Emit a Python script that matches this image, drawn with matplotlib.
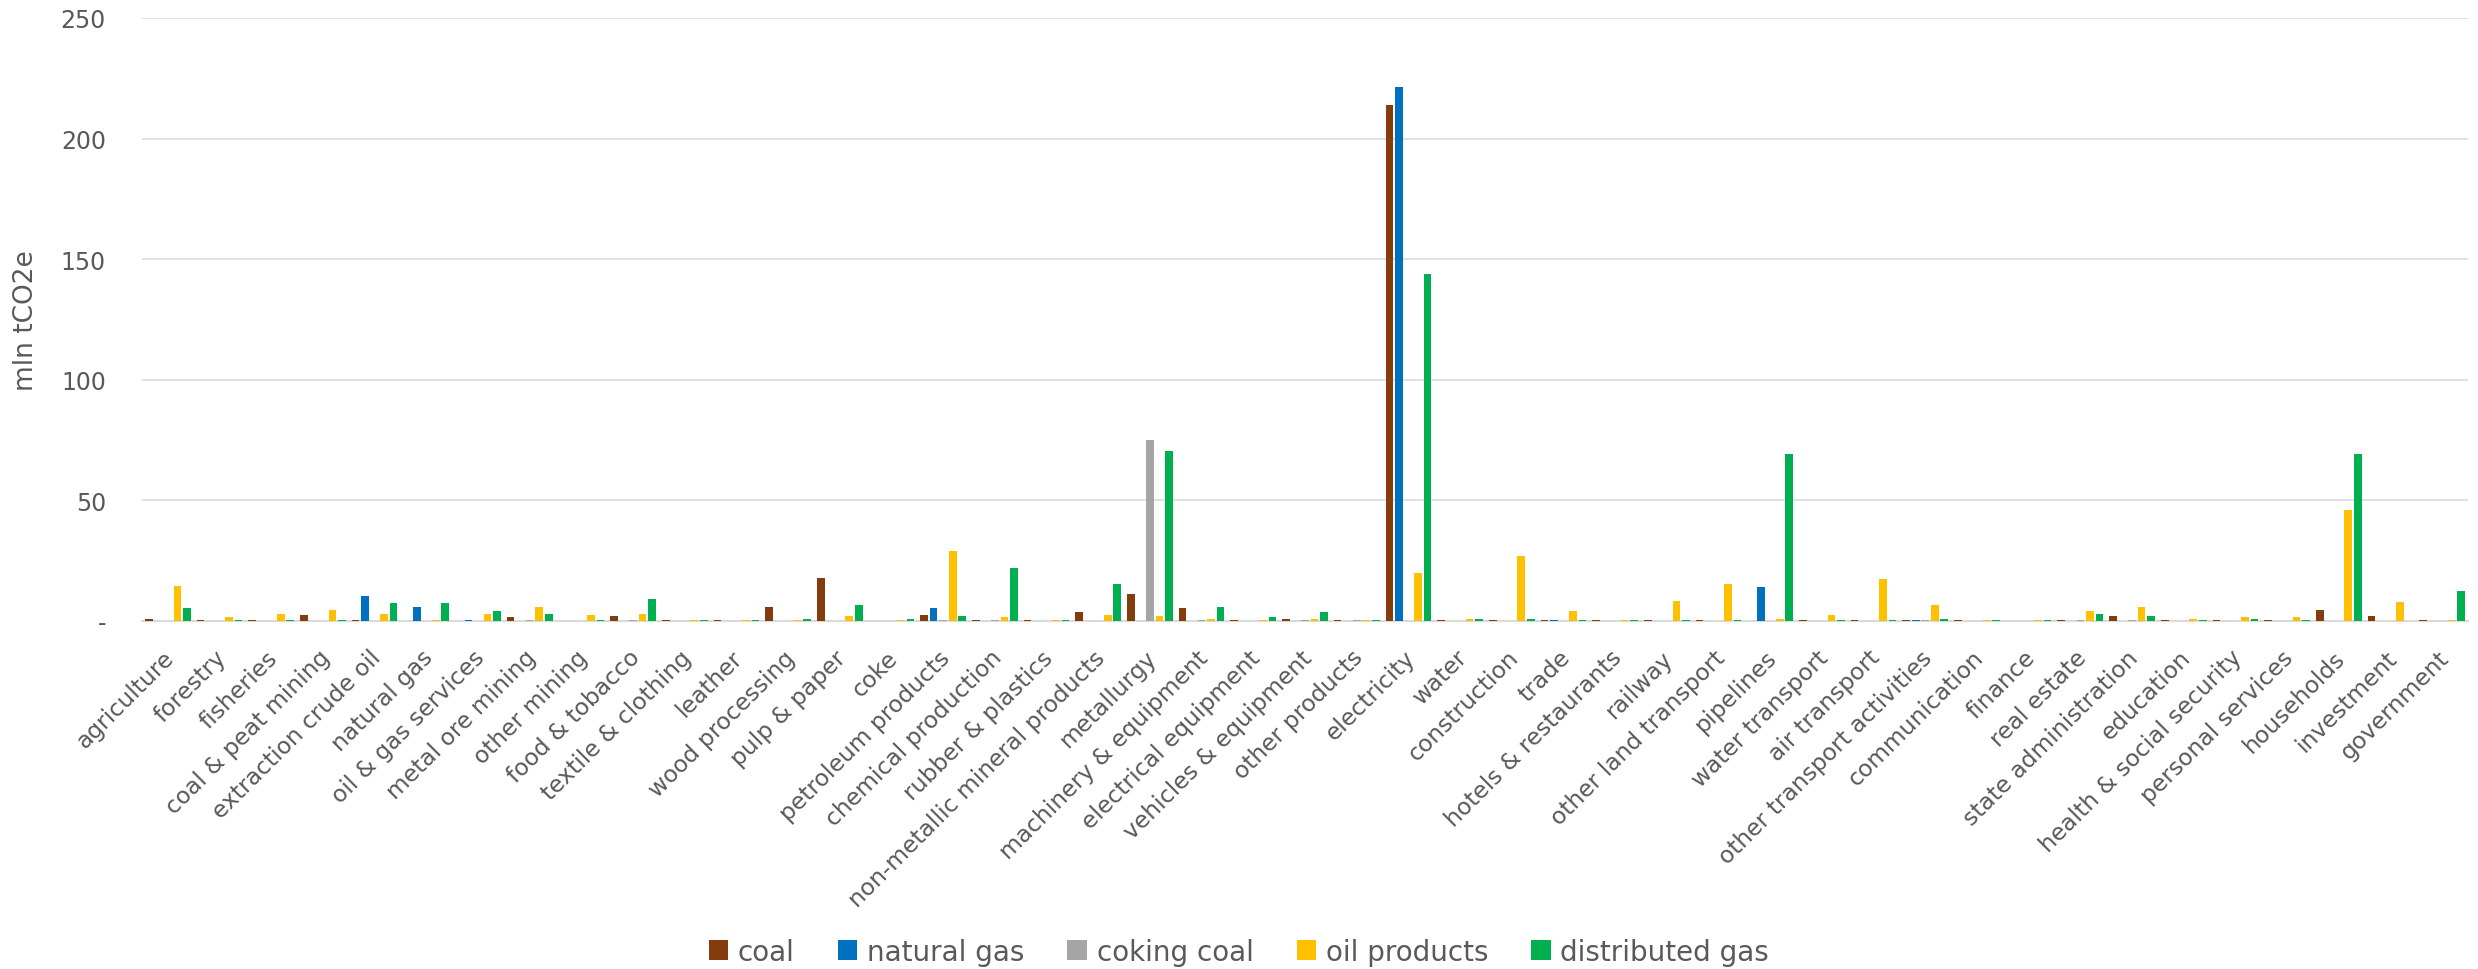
import numpy as np
import matplotlib
matplotlib.use("Agg")
import matplotlib.pyplot as plt
from matplotlib.patches import Patch
from matplotlib.transforms import ScaledTranslation

plt.rcParams['font.family'] = ['DejaVu Sans']

categories = [
    "agriculture", "forestry", "fisheries", "coal & peat mining", "extraction crude oil",
    "natural gas", "oil & gas services", "metal ore mining", "other mining", "food & tobacco",
    "textile & clothing", "leather", "wood processing", "pulp & paper", "coke",
    "petroleum products", "chemical production", "rubber & plastics",
    "non-metallic mineral products", "metallurgy", "machinery & equipment",
    "electrical equipment", "vehicles & equipment", "other products", "electricity",
    "water", "construction", "trade", "hotels & restaurants", "railway",
    "other land transport", "pipelines", "water transport", "air transport",
    "other transport activities", "communication", "finance", "real estate",
    "state administration", "education", "health & social security",
    "personal services", "households", "investment", "government",
]

coal = [0.8, 0.3, 0.3, 2.35, 0.3, 0, 0, 1.4, 0, 1.9,
        0.3, 0.3, 5.7, 17.7, 0, 2.35, 0.3, 0.3, 3.5, 10.9,
        5.1, 0.3, 0.8, 0.3, 214, 0.3, 0.3, 0.3, 0.3, 0.3,
        0.3, 0, 0.3, 0.3, 0.3, 0.3, 0, 0.3, 1.9, 0.3,
        0.3, 0.3, 4.6, 1.9, 0.3]
natural_gas = [0, 0, 0, 0, 10.4, 5.7, 0.3, 0, 0, 0,
               0, 0, 0, 0, 0, 5.1, 0, 0, 0, 0,
               0, 0, 0, 0, 221.5, 0, 0, 0.3, 0, 0,
               0, 14.0, 0, 0, 0.3, 0, 0, 0, 0, 0,
               0, 0, 0, 0, 0]
coking_coal = [0, 0, 0, 0, 0, 0, 0, 0.3, 0, 0.3,
               0, 0, 0, 0, 0, 0.3, 0.3, 0, 0, 75.1,
               0.3, 0, 0.3, 0.3, 0, 0, 0, 0, 0, 0,
               0, 0, 0, 0, 0.3, 0, 0, 0.3, 0.3, 0,
               0, 0, 0, 0, 0]
oil_products = [14.5, 1.4, 2.9, 4.6, 2.9, 0.3, 2.9, 5.7, 2.35, 2.9,
                0.3, 0.3, 0.3, 1.9, 0.3, 28.9, 1.4, 0.3, 2.35, 1.9,
                0.8, 0.3, 0.8, 0.3, 19.8, 0.8, 26.7, 4.0, 0.3, 8.2,
                15.1, 0.8, 2.35, 17.3, 6.5, 0.3, 0.3, 4.0, 5.7, 0.8,
                1.4, 1.4, 45.7, 7.7, 0.3]
distributed_gas = [5.1, 0.3, 0.3, 0.3, 7.2, 7.2, 4.1, 2.9, 0.3, 8.9,
                   0.3, 0.3, 0.8, 6.6, 0.8, 1.9, 21.9, 0.3, 15.1, 70.4,
                   5.7, 1.4, 3.5, 0.3, 143.9, 0.8, 0.8, 0.3, 0.3, 0.3,
                   0.3, 69.3, 0.3, 0.3, 0.8, 0.3, 0.3, 2.9, 1.9, 0.3,
                   0.8, 0.3, 69.0, 0, 12.4]

series_names = ["coal", "natural gas", "coking coal", "oil products", "distributed gas"]
series_values = [coal, natural_gas, coking_coal, oil_products, distributed_gas]
series_colors = ["#843C0C", "#0070C0", "#A5A5A5", "#FFC000", "#00B050"]

y_ticks = [0, 50, 100, 150, 200, 250]
y_tick_labels = ["-", "50", "100", "150", "200", "250"]

W, H = 2478, 970
fig = plt.figure(figsize=(W / 100, H / 100), dpi=100)
ax = fig.add_axes([142 / W, 348.4 / H, (2468 - 142) / W, (951 - 348.4) / H])

x = np.arange(len(categories))
pitch = 0.184
bar_w = 0.148
for k, (name, vals, col) in enumerate(zip(series_names, series_values, series_colors)):
    ax.bar(x + (k - 2) * pitch, vals, width=bar_w, color=col, label=name, zorder=3, linewidth=0)

ax.set_xlim(-0.5, len(categories) - 0.5)
ax.set_ylim(0, 250)
ax.set_yticks(y_ticks)
ax.set_yticklabels(y_tick_labels)
ax.yaxis.grid(True, color="#D9D9D9", linewidth=1.1, zorder=0)
ax.set_axisbelow(True)
for s in ["top", "right", "left"]:
    ax.spines[s].set_visible(False)
ax.spines["bottom"].set_color("#D9D9D9")
ax.spines["bottom"].set_linewidth(1.4)
ax.spines["bottom"].set_zorder(2)

ax.tick_params(axis="y", length=0, pad=26, labelsize=17, labelcolor="#595959")
ax.tick_params(axis="x", length=0, pad=18, labelsize=16.8, labelcolor="#595959")
ax.set_xticks(x)
ax.set_xticklabels(categories, rotation=45, ha="right", va="top", rotation_mode="anchor")
shift = ScaledTranslation(-5 / 100, 0, fig.dpi_scale_trans)
for lbl in ax.get_xticklabels():
    lbl.set_transform(lbl.get_transform() + shift)

fig.text(26 / W, 1 - 321 / H, "mln tCO2e", rotation=90, ha="center", va="center",
         fontsize=19, color="#595959")

handles = [Patch(facecolor=c, edgecolor="none", label=n) for n, c in zip(series_names, series_colors)]
fig.legend(handles=handles, loc="center", bbox_to_anchor=(0.5, 1 - 952.7 / H), ncol=5,
           frameon=False, fontsize=20, handlelength=0.7, handleheight=0.7,
           handletextpad=0.35, columnspacing=1.55, labelcolor="#595959")

fig.savefig("out.png", dpi=100, facecolor="white")
